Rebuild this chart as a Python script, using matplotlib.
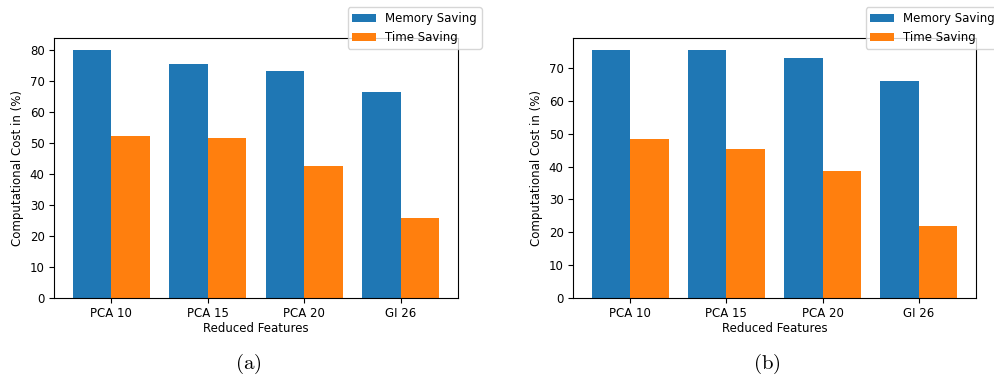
import matplotlib.pyplot as plt
import numpy as np

# Data
features = ["PCA 10", "PCA 15", "PCA 20", "GI 26"]
memory_a = [80.0, 75.5, 73.2, 66.6]
time_a = [52.3, 51.5, 42.7, 25.6]
memory_b = [75.6, 75.6, 73.1, 66.1]
time_b = [48.6, 45.3, 38.7, 21.9]
captions = ["(a)", "(b)"]

plt.rcParams['font.size'] = 8.5
plt.rcParams['mathtext.fontset'] = 'cm'

fig = plt.figure(figsize=(9.94, 3.78), dpi=100)
ax_a = fig.add_axes([0.0548, 0.2124, 0.4056, 0.6878])
ax_b = fig.add_axes([0.5768, 0.2124, 0.4048, 0.6878])

x = np.arange(len(features))
w = 0.4
for ax, mem, tim, cap in zip([ax_a, ax_b], [memory_a, memory_b], [time_a, time_b], captions):
    ax.bar(x - w / 2, mem, w, color="#1f77b4", label="Memory Saving")
    ax.bar(x + w / 2, tim, w, color="#ff7f0e", label="Time Saving")
    ax.set_xticks(x)
    ax.set_xticklabels(features)
    ax.set_xlabel("Reduced Features", labelpad=1)
    ax.set_ylabel("Computational Cost in (%)")
    ax.legend(loc="upper right", bbox_to_anchor=(1.06, 1.117), borderaxespad=0)
    pos = ax.get_position()
    fig.text(pos.x0 + pos.width / 2 - 0.008, 0.037, r"$\mathrm{" + cap + "}$",
             ha="center", va="center", fontsize=15)

fig.savefig("out.png", dpi=100)
